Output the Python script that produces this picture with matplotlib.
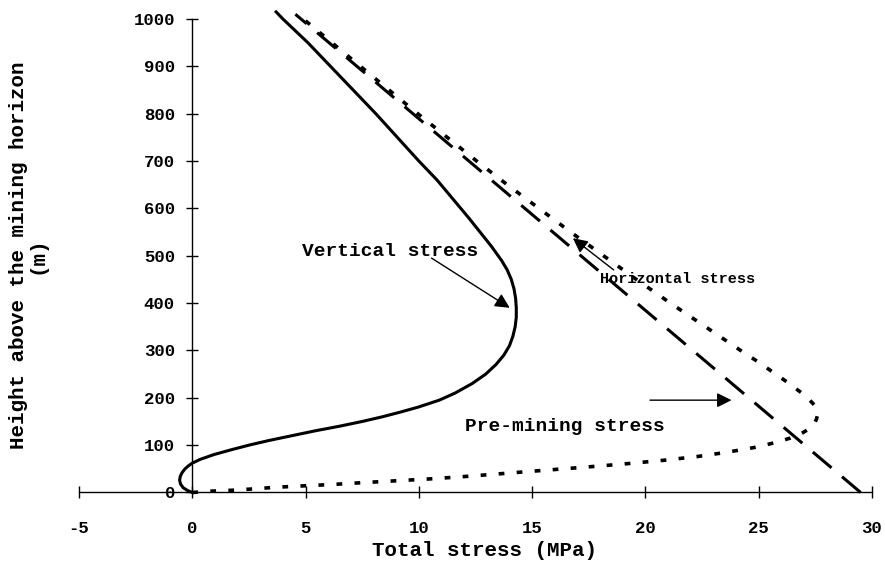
import matplotlib
matplotlib.use("Agg")
import matplotlib.pyplot as plt

plt.rcParams['font.family'] = ['Liberation Mono', 'DejaVu Sans Mono']
plt.rcParams['font.weight'] = 'bold'

# Vertical stress profile (MPa) versus height above the mining horizon (m)
vertical_height = [0, 4, 10, 18, 26, 34, 42, 50, 56, 62, 70, 80, 90, 100, 110, 120,
                   130, 140, 150, 160, 170, 180, 195, 210, 230, 250, 270, 290, 310,
                   330, 350, 370, 390, 410, 430, 450, 470, 490, 520, 550, 580, 620,
                   660, 700, 750, 800, 850, 900, 950, 1000, 1015]
vertical_stress = [0, -0.2, -0.4, -0.52, -0.56, -0.53, -0.45, -0.32, -0.18, 0, 0.35,
                   0.95, 1.7, 2.5, 3.4, 4.4, 5.4, 6.5, 7.5, 8.4, 9.2, 9.95, 10.9, 11.6,
                   12.35, 12.95, 13.4, 13.75, 14.0, 14.15, 14.25, 14.3, 14.3, 14.27,
                   14.2, 14.08, 13.9, 13.65, 13.2, 12.7, 12.2, 11.5, 10.8, 10.0, 9.05,
                   8.1, 7.1, 6.1, 5.1, 4.0, 3.7]

# Horizontal stress profile
horizontal_height = [0, 3, 5, 8, 11, 14, 17, 21, 25, 29, 34, 40, 46, 53, 60, 68, 76,
                     85, 95, 105, 115, 125, 135, 145, 155, 165, 175, 185, 195, 210,
                     230, 250, 275, 300, 350, 400, 450, 500, 550, 600, 650, 700, 750,
                     800, 850, 900, 950, 1000, 1010]
horizontal_stress = [0, 0.9, 1.9, 2.8, 3.7, 4.9, 6.2, 7.6, 9.1, 10.6, 12.1, 13.7,
                     15.3, 17.2, 19.0, 20.8, 22.3, 23.6, 24.8, 25.7, 26.4, 26.9,
                     27.25, 27.45, 27.55, 27.6, 27.55, 27.45, 27.25, 26.9, 26.35,
                     25.75, 25.0, 24.2, 22.65, 21.1, 19.6, 18.15, 16.7, 15.3, 13.9,
                     12.55, 11.25, 9.95, 8.68, 7.42, 6.16, 4.9, 4.65]

# Pre-mining (virgin) stress: linear with depth
premining_height = [0, 1010]
premining_stress = [29.5, 4.55]

x_ticks = [-5, 0, 5, 10, 15, 20, 25, 30]
y_ticks = [0, 100, 200, 300, 400, 500, 600, 700, 800, 900, 1000]

fig = plt.figure(figsize=(8.85, 5.64), dpi=100)
ax = fig.add_axes([79 / 885, 1 - 499.6 / 564, 793 / 885, 490.1 / 564])

ax.plot(vertical_stress, vertical_height, color='black', lw=2.2,
        solid_joinstyle='round')
ax.plot(premining_stress, premining_height, color='black', lw=2.2,
        linestyle=(0, (8, 4.5)), dash_capstyle='butt')
ax.plot(horizontal_stress, horizontal_height, color='black', lw=2.6,
        linestyle=(0, (1.6, 3.4)), dash_capstyle='butt')

ax.set_xlim(-5, 30)
ax.set_ylim(-15, 1020)

for side in ('top', 'right'):
    ax.spines[side].set_visible(False)
ax.spines['left'].set_position(('data', 0))
ax.spines['bottom'].set_position(('data', 0))
ax.spines['left'].set_bounds(0, 1000)
ax.spines['bottom'].set_bounds(-5, 30)
for side in ('left', 'bottom'):
    ax.spines[side].set_linewidth(1.0)

ax.set_xticks(x_ticks)
ax.set_yticks(y_ticks)
ax.set_xticklabels([str(v) for v in x_ticks])
ax.set_yticklabels([str(v) for v in y_ticks])
ax.tick_params(axis='x', direction='inout', length=9, width=1, pad=16,
               labelsize=12.5)
ax.tick_params(axis='y', direction='inout', length=9, width=1, pad=8,
               labelsize=12.5)
for lab in ax.get_xticklabels() + ax.get_yticklabels():
    lab.set_fontweight('bold')

fig.text(485 / 885, 1 - 550 / 564, 'Total stress (MPa)', ha='center',
         va='center', fontsize=15, fontweight='bold')
fig.text(28 / 885, 1 - 255 / 564, 'Height above the mining horizon\n(m)',
         ha='center', va='center', rotation=90, fontsize=15,
         fontweight='bold', multialignment='center', linespacing=0.95)

arrow = dict(arrowstyle='-|>', color='black', lw=1.0, mutation_scale=22,
             shrinkA=0, shrinkB=0)

ax.text(8.72, 508, 'Vertical stress', ha='center', va='center', fontsize=14,
        fontweight='bold')
ax.annotate('', xy=(14.01, 390), xytext=(10.56, 495), arrowprops=arrow)

ax.text(21.4, 451, 'Horizontal stress', ha='center', va='center', fontsize=11,
        fontweight='bold')
ax.annotate('', xy=(16.8, 537), xytext=(18.6, 470), arrowprops=arrow)

ax.text(16.45, 140, 'Pre-mining stress', ha='center', va='center', fontsize=14,
        fontweight='bold')
ax.annotate('', xy=(23.8, 195), xytext=(20.2, 195), arrowprops=arrow)

fig.savefig('out.png', dpi=100)
